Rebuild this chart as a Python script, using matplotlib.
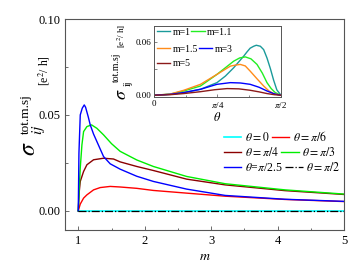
import numpy as np
import matplotlib
matplotlib.use("Agg")
import matplotlib.pyplot as plt
from matplotlib.legend import Legend

plt.rcParams['font.family'] = ['Liberation Serif', 'DejaVu Serif']
plt.rcParams['mathtext.fontset'] = 'stix'

# main panel: sigma vs m for several theta
m_blue = [1, 1.01, 1.03, 1.06, 1.09, 1.11, 1.15, 1.18, 1.23, 1.28, 1.38, 1.48, 1.63, 1.88, 2.13, 2.63, 3.21, 4.11, 5]
s_blue = [0, 0.030, 0.050, 0.0535, 0.0552, 0.054, 0.049, 0.0448, 0.040, 0.0361, 0.0283, 0.0245, 0.0217, 0.018,
          0.0153, 0.0113, 0.0080, 0.0060, 0.0049]
m_green = [1, 1.015, 1.03, 1.055, 1.08, 1.13, 1.2, 1.28, 1.38, 1.5, 1.63, 1.88, 2.13, 2.63, 3.21, 4.11, 5]
s_green = [0, 0.012, 0.0224, 0.0344, 0.0413, 0.0439, 0.0448, 0.043, 0.0396, 0.035, 0.031, 0.0265, 0.0231, 0.0179,
           0.0141, 0.0109, 0.0087]
m_brown = [1, 1.015, 1.03, 1.08, 1.13, 1.23, 1.38, 1.53, 1.63, 1.88, 2.13, 2.63, 3.21, 4.11, 5]
s_brown = [0, 0.0101, 0.0153, 0.0205, 0.024, 0.0266, 0.0274, 0.027, 0.0255, 0.0231, 0.021, 0.0165, 0.0135, 0.0105, 0.0085]
m_red = [1, 1.03, 1.08, 1.13, 1.23, 1.33, 1.48, 1.63, 1.88, 2.13, 2.63, 3.21, 4.11, 5]
s_red = [0, 0.0035, 0.0066, 0.0083, 0.0109, 0.0121, 0.0127, 0.0124, 0.0117, 0.0106, 0.0092, 0.0076, 0.0059, 0.0048]
m_flat = [1, 5]
s_flat = [0, 0]

# inset: sigma vs theta for several m
th_m1 = [0, 0.2, 0.37, 0.576, 0.78, 0.884, 0.987, 1.049, 1.11, 1.151, 1.19, 1.234, 1.266, 1.316, 1.357, 1.398,
         1.44, 1.48, 1.52, np.pi / 2]
s_m1 = [0, 0.001, 0.003, 0.0067, 0.0142, 0.0216, 0.031, 0.0376, 0.044, 0.0488, 0.053, 0.0552, 0.0563, 0.0552,
        0.0514, 0.042, 0.030, 0.017, 0.006, 0]
th_m11 = [0, 0.2, 0.37, 0.576, 0.78, 0.884, 0.987, 1.06, 1.13, 1.2, 1.275, 1.34, 1.398, 1.45, 1.50, np.pi / 2]
s_m11 = [0, 0.0012, 0.0048, 0.0104, 0.0235, 0.031, 0.0384, 0.042, 0.0432, 0.041, 0.0347, 0.025, 0.0142, 0.0075, 0.003, 0]
th_m15 = [0, 0.2, 0.37, 0.576, 0.78, 0.946, 1.01, 1.069, 1.13, 1.19, 1.28, 1.357, 1.42, 1.48, np.pi / 2]
s_m15 = [0, 0.0013, 0.0056, 0.0123, 0.0235, 0.0328, 0.034, 0.0347, 0.033, 0.0272, 0.018, 0.0104, 0.005, 0.0019, 0]
th_m3 = [0, 0.2, 0.37, 0.576, 0.78, 0.946, 1.07, 1.19, 1.3, 1.398, 1.49, np.pi / 2]
s_m3 = [0, 0.001, 0.003, 0.0067, 0.0123, 0.0142, 0.0138, 0.0123, 0.009, 0.0048, 0.0015, 0]
th_m5 = [0, 0.2, 0.37, 0.576, 0.75, 0.905, 1.05, 1.19, 1.3, 1.398, 1.49, np.pi / 2]
s_m5 = [0, 0.0006, 0.0019, 0.004, 0.0062, 0.0075, 0.0072, 0.0056, 0.0038, 0.0019, 0.0006, 0]

fig = plt.figure(figsize=(3.57, 2.68), dpi=100)
ax = fig.add_axes([0.182, 0.142, 0.782, 0.787])

l0, = ax.plot(m_flat, s_flat, color='#00ffff', lw=1.2)
l6, = ax.plot(m_red, s_red, color='red', lw=1)
l4, = ax.plot(m_brown, s_brown, color='#8b0000', lw=1)
l3, = ax.plot(m_green, s_green, color='#00ee00', lw=1)
l25, = ax.plot(m_blue, s_blue, color='blue', lw=1)
l2, = ax.plot(m_flat, s_flat, color='black', lw=0.9, ls='-.')

ax.set_xlim(0.8, 5)
ax.set_ylim(-0.01, 0.10)
ax.set_xticks([1, 2, 3, 4, 5])
ax.set_xticks([1.5, 2.5, 3.5, 4.5], minor=True)
ax.set_yticks([0.0, 0.05, 0.10])
ax.set_yticklabels(['0.00', '0.05', '0.10'])
ax.set_yticks([0.025, 0.075], minor=True)
ax.tick_params(which='both', direction='in', labelsize=9, length=3, width=0.6, color='#555555')
ax.tick_params(which='minor', length=1.8)
for sp in ax.spines.values():
    sp.set_color('#555555')
    sp.set_linewidth(0.8)
ax.set_xlabel(r'$m$', fontsize=10, labelpad=2)

# y label built from pieces (big sigma, sub, sup, units)
ax.text(-0.127, 0.385, r'$\sigma$', fontsize=17, rotation=90,
        ha='center', va='center', transform=ax.transAxes)
ax.text(-0.094, 0.474, r'$ij$', fontsize=11, rotation=90,
        ha='center', va='center', transform=ax.transAxes)
ax.text(-0.14, 0.55, 'tot.m.sj', fontsize=9.5, rotation=90,
        ha='center', va='center', transform=ax.transAxes)
ax.text(-0.075, 0.758, r'[e$^2$/ h]', fontsize=8.5, rotation=90,
        ha='center', va='center', transform=ax.transAxes)

# legend written row by row, like the original
main_rows = [([l0, l6], [r'$\theta = 0$', r'$\theta = \pi/6$'], 0.44),
             ([l4, l3], [r'$\theta = \pi/4$', r'$\theta = \pi/3$'], 0.365),
             ([l25, l2], [r'$\theta$=$\pi$/2.5', r'$\theta = \pi/2$'], 0.294)]
for handles, labels, yrow in main_rows:
    leg = Legend(ax, handles, labels, ncol=2, frameon=False, fontsize=8.5, loc='center left',
                 bbox_to_anchor=(0.568, yrow), handlelength=1.5, handletextpad=0.3,
                 columnspacing=0.2, borderpad=0, borderaxespad=0)
    ax.add_artist(leg)

# inset
ins = fig.add_axes([0.431, 0.638, 0.356, 0.265])
i1, = ins.plot(th_m1, s_m1, color='#1a9a9a', lw=1)
i11, = ins.plot(th_m11, s_m11, color='#22ee22', lw=1)
i15, = ins.plot(th_m15, s_m15, color='#ff8c1a', lw=1)
i3, = ins.plot(th_m3, s_m3, color='blue', lw=1)
i5, = ins.plot(th_m5, s_m5, color='#8b1a1a', lw=1)
ins.set_xlim(0, np.pi / 2)
ins.set_ylim(-0.002, 0.078)
ins.set_xticks([0, np.pi / 4, np.pi / 2])
ins.set_xticklabels(['0', r'$\pi$/4', r'$\pi$/2'])
ins.set_xticks([np.pi / 8, 3 * np.pi / 8], minor=True)
ins.set_yticks([0.0, 0.03, 0.06])
ins.set_yticklabels(['0.00', '', '0.06'])
ins.tick_params(which='both', direction='in', labelsize=6.5, length=2.5, width=0.5,
                color='#555555', pad=2)
ins.tick_params(which='minor', length=1.5)
for sp in ins.spines.values():
    sp.set_color('#555555')
    sp.set_linewidth(0.7)
ins.set_xlabel(r'$\theta$', fontsize=9, labelpad=1)
ins.text(-0.252, 0.04, r'$\sigma$', fontsize=13, rotation=90,
         ha='center', va='center', transform=ins.transAxes)
ins.text(-0.205, 0.19, 'ij', fontsize=7, rotation=90,
         ha='center', va='center', transform=ins.transAxes)
ins.text(-0.291, 0.42, 'tot.m.sj', fontsize=7, rotation=90,
         ha='center', va='center', transform=ins.transAxes)
ins.text(-0.252, 0.86, r'[e$^2$/ h]', fontsize=6.5, rotation=90,
         ha='center', va='center', transform=ins.transAxes)

inset_rows = [([i1, i11], ['m=1', 'm=1.1'], 0.915),
              ([i15, i3], ['m=1.5', 'm=3'], 0.676),
              ([i5], ['m=5'], 0.465)]
for handles, labels, yrow in inset_rows:
    leg = Legend(ins, handles, labels, ncol=2, frameon=False, fontsize=7, loc='center left',
                 bbox_to_anchor=(0.024, yrow), handlelength=1.35, handletextpad=0.25,
                 columnspacing=0.1, borderpad=0, borderaxespad=0)
    ins.add_artist(leg)

fig.savefig('out.png', dpi=100)
